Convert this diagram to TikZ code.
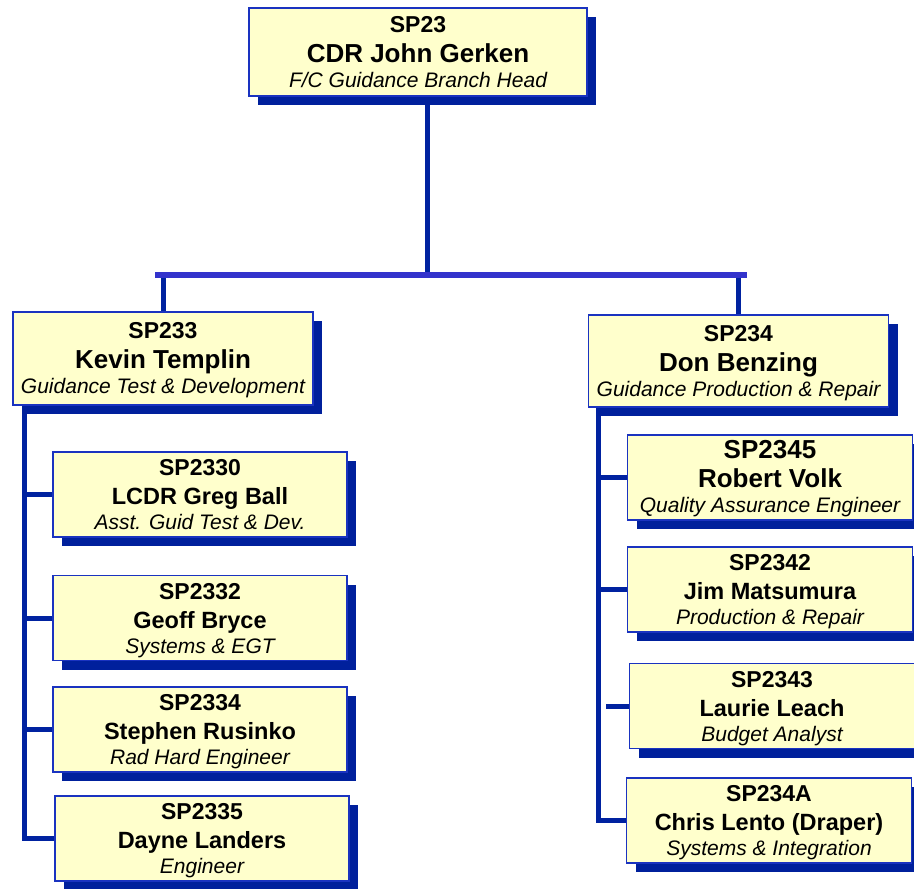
\documentclass[tikz,border=0pt]{standalone}
\usepackage{fontspec}
\setmainfont{Liberation Sans}
\usepackage{tikz}
\usetikzlibrary{shadows, backgrounds, calc}
\definecolor{box_fill}{HTML}{FFFFCC}
\definecolor{box_edge}{HTML}{1A33C0}
\definecolor{box_shadow}{HTML}{00209C}
\definecolor{link_blue}{HTML}{0022A0}
\definecolor{bar_blue}{HTML}{3333CC}
\newcommand{\codefont}{\fontsize{23}{25}\selectfont\bfseries}
\newcommand{\namefont}{\fontsize{26}{25}\selectfont\bfseries}
\newcommand{\staffname}{\fontsize{23.5}{25}\selectfont\bfseries}
\newcommand{\titlefont}{\normalfont\fontsize{21}{25}\selectfont\itshape}

\begin{document}
\begin{tikzpicture}[
  x=1pt, y=-1pt,
  orgbox/.style = {draw=box_edge, fill=box_fill, line width=1.5pt, align=center, inner sep=0pt,
    font=\fontsize{21}{25}\selectfont, text height=70pt, text depth=0pt,
    drop shadow={shadow xshift=9pt, shadow yshift=-9pt, fill=box_shadow, opacity=1}},
  headbox/.style = {orgbox, minimum width=338pt, minimum height=88pt},
  leadbox/.style = {orgbox, minimum width=300pt, minimum height=93pt},
  staffbox/.style = {orgbox, minimum width=294pt, minimum height=85pt},
  link/.style = {draw=link_blue, line width=5pt},
  bar/.style = {draw=bar_blue, line width=6pt},
]
\useasboundingbox (0,0) rectangle (914,889);

% Define boxes
\node[headbox] (sp23) at (418,52) {\codefont SP23\\[5pt]\namefont CDR John Gerken\\\titlefont F/C Guidance Branch Head};
\node[leadbox] (sp233) at (163,358.5) {\codefont SP233\\[5pt]\namefont Kevin Templin\\\titlefont Guidance Test \& Development};
\node[leadbox, minimum height=92pt] (sp234) at (738.5,361) {\codefont SP234\\[5pt]\namefont Don Benzing\\\titlefont Guidance Production \& Repair};

\node[staffbox] (sp2330) at (200,494.5) {\codefont SP2330\\[4pt]\staffname LCDR Greg Ball\\\titlefont Asst. Guid Test \& Dev.};
\node[staffbox] (sp2332) at (200,618) {\codefont SP2332\\[4pt]\staffname Geoff Bryce\\\titlefont Systems \& EGT};
\node[staffbox] (sp2334) at (200,729.5) {\codefont SP2334\\[4pt]\staffname Stephen Rusinko\\\titlefont Rad Hard Engineer};
\node[staffbox] (sp2335) at (202,838.5) {\codefont SP2335\\[4pt]\staffname Dayne Landers\\\titlefont Engineer};

\node[staffbox, minimum width=285pt] (sp2345) at (770,477.5) {\namefont SP2345\\[4pt]\namefont Robert Volk\\\titlefont Quality Assurance Engineer};
\node[staffbox, minimum width=285pt] (sp2342) at (770,589.5) {\codefont SP2342\\[4pt]\staffname Jim Matsumura\\\titlefont Production \& Repair};
\node[staffbox, minimum width=285pt] (sp2343) at (772,706) {\codefont SP2343\\[4pt]\staffname Laurie Leach\\\titlefont Budget Analyst};
\node[staffbox, minimum width=285pt] (sp234A) at (769,820.5) {\codefont SP234A\\[4pt]\staffname Chris Lento (Draper)\\\titlefont Systems \& Integration};

% Draw connectors
\begin{scope}[on background layer]
\coordinate (hub) at (427,275);
\coordinate (ltrunk) at ($(sp233.south west)+(12,0)$);
\coordinate (rtrunk) at ($(sp234.south west)+(11,0)$);
\draw[link] (hub) -- (hub |- sp23.south);
\draw[link] (sp233.north) -- (sp233.north |- hub);
\draw[link] (sp234.north) -- (sp234.north |- hub);
\draw[bar] ($(sp233.north |- hub)+(-8,0)$) -- ($(sp234.north |- hub)+(8,0)$);
\draw[link] (ltrunk) |- (sp2335.west);
\foreach \n in {sp2330, sp2332, sp2334}
  \draw[link] (\n.west) -- (\n.west -| ltrunk);
\draw[link] (rtrunk) |- (sp234A.west);
\foreach \n in {sp2345, sp2342}
  \draw[link] (\n.west) -- (\n.west -| rtrunk);
\draw[link] (sp2343.west) -- ++(-23,0);
\end{scope}
\end{tikzpicture}
\end{document}
